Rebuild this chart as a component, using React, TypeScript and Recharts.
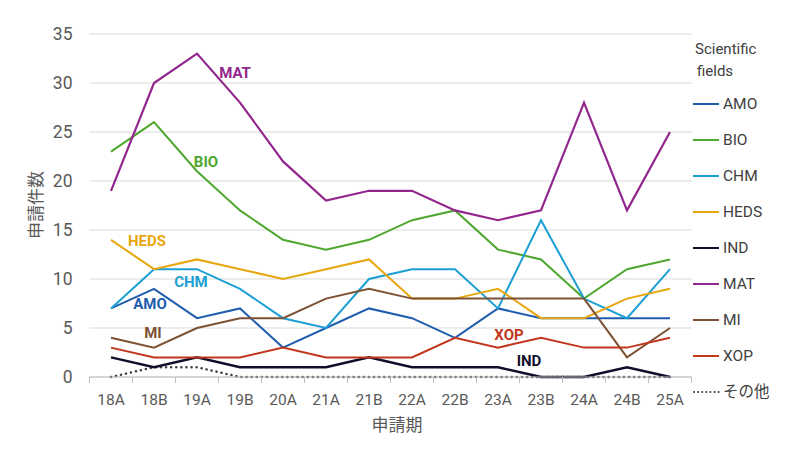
import React from 'react'
import { LineChart, Line, XAxis, YAxis, CartesianGrid } from 'recharts'

// 申請期 (application periods)
const periods = ['18A', '18B', '19A', '19B', '20A', '21A', '21B', '22A', '22B', '23A', '23B', '24A', '24B', '25A']

// 申請件数 per scientific field
const amo = [7, 9, 6, 7, 3, 5, 7, 6, 4, 7, 6, 6, 6, 6]
const bio = [23, 26, 21, 17, 14, 13, 14, 16, 17, 13, 12, 8, 11, 12]
const chm = [7, 11, 11, 9, 6, 5, 10, 11, 11, 7, 16, 8, 6, 11]
const heds = [14, 11, 12, 11, 10, 11, 12, 8, 8, 9, 6, 6, 8, 9]
const ind = [2, 1, 2, 1, 1, 1, 2, 1, 1, 1, 0, 0, 1, 0]
const mat = [19, 30, 33, 28, 22, 18, 19, 19, 17, 16, 17, 28, 17, 25]
const mi = [4, 3, 5, 6, 6, 8, 9, 8, 8, 8, 8, 8, 2, 5]
const xop = [3, 2, 2, 2, 3, 2, 2, 2, 4, 3, 4, 3, 3, 4]
const other = [0, 1, 1, 0, 0, 0, 0, 0, 0, 0, 0, 0, 0, 0]

const yTicks = [0, 5, 10, 15, 20, 25, 30, 35]

const FONT = "Roboto, 'Noto Sans CJK JP', sans-serif"
const AXIS_GREY = '#595959'

// inline label: which point it hangs off and how far it sits from it
const series = [
  { key: 'AMO', values: amo, color: '#1F5DAE', width: 2, tag: { idx: 1, dx: -4, dy: 15 } },
  { key: 'BIO', values: bio, color: '#4EA72E', width: 2, tag: { idx: 2, dx: 9, dy: -9 } },
  { key: 'CHM', values: chm, color: '#1C9FD4', width: 2, tag: { idx: 2, dx: -6, dy: 13 } },
  { key: 'HEDS', values: heds, color: '#E8A70F', width: 2, tag: { idx: 0, dx: 36, dy: 1 } },
  { key: 'IND', values: ind, color: '#0E0F2C', width: 2.5, tag: { idx: 9, dx: 31, dy: -6 } },
  { key: 'MAT', values: mat, color: '#92268C', width: 2.2, tag: { idx: 2, dx: 38, dy: 19 } },
  { key: 'MI', values: mi, color: '#7D5234', width: 2, tag: { idx: 1, dx: -1, dy: -15 } },
  { key: 'XOP', values: xop, color: '#C2361C', width: 2, tag: { idx: 9, dx: 11, dy: -13 } },
]

const data = periods.map((p, i) => {
  const row: Record<string, string | number> = { period: p, その他: other[i] }
  series.forEach((s) => {
    row[s.key] = s.values[i]
  })
  return row
})

const HALF_STEP = 21.5

function XTick(props: any) {
  const { x, y, payload, index } = props
  const last = index === periods.length - 1
  return (
    <g>
      <line x1={x - HALF_STEP} x2={x - HALF_STEP} y1={y} y2={y + 6} stroke="#bfbfbf" />
      {last && <line x1={x + HALF_STEP} x2={x + HALF_STEP} y1={y} y2={y + 6} stroke="#bfbfbf" />}
      <text x={x} y={y + 28} textAnchor="middle" fill={AXIS_GREY} fontSize={15.5} fontFamily={FONT}>
        {payload.value}
      </text>
    </g>
  )
}

function makeTag(name: string, color: string, tag: { idx: number; dx: number; dy: number }) {
  return (props: any) => {
    if (props.index !== tag.idx) return null
    return (
      <text
        key={name}
        x={props.x + tag.dx}
        y={props.y + tag.dy}
        dy={5}
        textAnchor="middle"
        fill={color}
        fontSize={15}
        fontWeight={700}
        fontFamily={FONT}
      >
        {name}
      </text>
    )
  }
}

function Legend() {
  const items = [...series.map((s) => ({ name: s.key, color: s.color, dotted: false })), { name: 'その他', color: '#404040', dotted: true }]
  return (
    <div style={{ position: 'absolute', left: 693, top: 38, fontFamily: FONT, fontSize: 15, color: '#404040' }}>
      <div style={{ lineHeight: '22px', marginLeft: 2 }}>Scientific</div>
      <div style={{ lineHeight: '22px', marginLeft: 4 }}>fields</div>
      <svg width={107} height={330} style={{ display: 'block', marginTop: 4 }}>
        {items.map((it, i) => {
          const cy = 18 + i * 36
          return (
            <g key={it.name}>
              <line
                x1={it.dotted ? 1 : 0}
                x2={26}
                y1={cy}
                y2={cy}
                stroke={it.color}
                strokeWidth={2}
                strokeDasharray={it.dotted ? '0.1 4' : undefined}
                strokeLinecap={it.dotted ? 'round' : 'butt'}
              />
              <text x={30} y={cy + 5} fill="#404040" fontSize={15.5} fontFamily={FONT}>
                {it.name}
              </text>
            </g>
          )
        })}
      </svg>
    </div>
  )
}

export default function App() {
  return (
    <div style={{ position: 'absolute', left: 0, top: 0, width: 800, height: 454, background: '#fff' }}>
      <LineChart width={800} height={454} data={data} margin={{ top: 34, right: 108.5, bottom: 47, left: 29.5 }}>
        <CartesianGrid vertical={false} stroke="#d9d9d9" />
        <XAxis
          dataKey="period"
          padding={{ left: HALF_STEP, right: HALF_STEP }}
          height={30}
          tickSize={0}
          tickMargin={0}
          stroke="#bfbfbf"
          tick={<XTick />}
          interval={0}
          label={{
            content: () => (
              <text x={397} y={431} textAnchor="middle" fill={AXIS_GREY} fontSize={17} fontFamily={FONT}>
                申請期
              </text>
            ),
          }}
        />
        <YAxis
          width={60}
          domain={[0, 35]}
          ticks={yTicks}
          axisLine={false}
          tickLine={false}
          tickSize={0}
          tickMargin={17}
          tick={{ fill: AXIS_GREY, fontSize: 17.5, fontFamily: FONT }}
          label={{
            content: () => (
              <text
                x={36}
                y={205}
                transform="rotate(-90 36 205)"
                textAnchor="middle"
                dy={6}
                fill={AXIS_GREY}
                fontSize={17}
                fontFamily={FONT}
              >
                申請件数
              </text>
            ),
          }}
        />
        <Line
          dataKey="その他"
          stroke="#404040"
          strokeWidth={2.5}
          strokeDasharray="0.1 5"
          strokeLinecap="round"
          dot={false}
          isAnimationActive={false}
        />
        {series.map((s) => (
          <Line
            key={s.key}
            dataKey={s.key}
            stroke={s.color}
            strokeWidth={s.width}
            dot={false}
            isAnimationActive={false}
            label={makeTag(s.key, s.color, s.tag)}
          />
        ))}
      </LineChart>
      <Legend />
    </div>
  )
}
